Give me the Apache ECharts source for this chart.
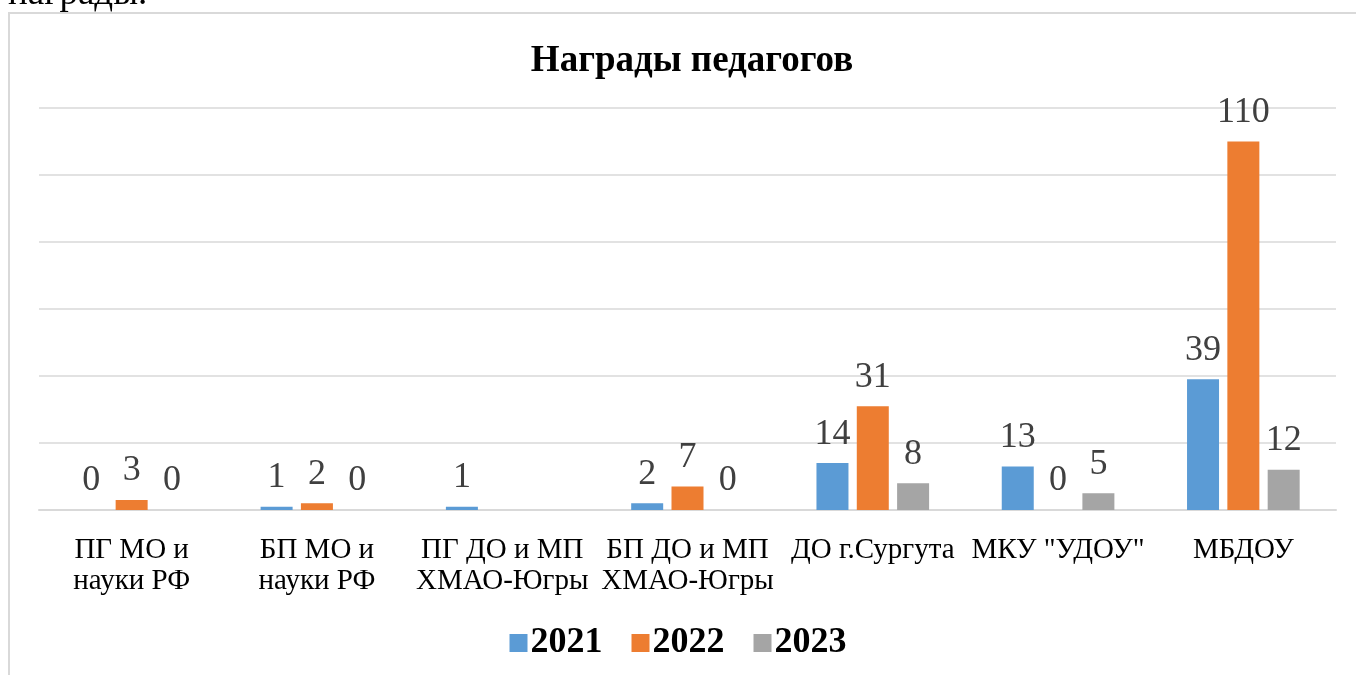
<!DOCTYPE html>
<html>
<head>
<meta charset="utf-8">
<script src="https://cdn.jsdelivr.net/npm/echarts@6/dist/echarts.min.js"></script>
<style>
  html, body { margin: 0; padding: 0; background: #fff; }
  #chart { width: 1356px; height: 675px; }
</style>
</head>
<body>
<div id="chart"></div>
<script>
  var categories = ['ПГ МО и\nнауки РФ', 'БП МО и\nнауки РФ', 'ПГ ДО и МП\nХМАО-Югры', 'БП ДО и МП\nХМАО-Югры', 'ДО г.Сургута', 'МКУ "УДОУ"', 'МБДОУ'];
  var years = ['2021', '2022', '2023'];
  var data2021 = [0, 1, 1, 2, 14, 13, 39];
  var data2022 = [3, 2, null, 7, 31, 0, 110];
  var data2023 = [0, 0, null, 0, 8, 5, 12];
  var colors = ['#5b9bd5', '#ed7d31', '#a5a5a5'];

  var serif = '"Liberation Serif", "Times New Roman", serif';
  var myChart = echarts.init(document.getElementById('chart'));

  function makeSeries(name, values, color) {
    return {
      name: name,
      type: 'bar',
      data: values,
      barWidth: 32,
      barGap: '26%',
      itemStyle: { color: color },
      label: {
        show: true,
        position: 'top',
        distance: 11,
        color: '#404040',
        fontFamily: serif,
        fontSize: 36
      }
    };
  }

  var option = {
    animation: false,
    color: colors,
    title: {
      text: 'Награды педагогов',
      left: 687,
      textAlign: 'center',
      top: 38,
      textStyle: { fontFamily: serif, fontWeight: 'bold', fontSize: 37, color: '#000' }
    },
    legend: {
      data: years,
      left: 'center',
      top: 620,
      itemWidth: 18,
      itemHeight: 18,
      itemGap: 29,
      icon: 'rect',
      textStyle: { fontFamily: serif, fontWeight: 'bold', fontSize: 36, color: '#000', padding: [0, 0, 0, -2] }
    },
    graphic: [
      {
        type: 'rect',
        shape: { x: 9, y: 13, width: 1400, height: 700 },
        style: { fill: 'none', stroke: '#d9d9d9', lineWidth: 2 },
        silent: true
      },
      {
        type: 'text',
        left: 8,
        top: -24,
        style: { text: 'награды.', font: '37px ' + serif, fill: '#000' },
        silent: true
      }
    ],
    grid: { left: 39, right: 20, top: 108, bottom: 165 },
    xAxis: {
      type: 'category',
      data: categories,
      axisTick: { show: false },
      axisLine: { lineStyle: { color: '#d9d9d9', width: 2 } },
      axisLabel: {
        interval: 0,
        margin: 25,
        color: '#000',
        fontFamily: serif,
        fontSize: 29,
        lineHeight: 31
      }
    },
    yAxis: {
      type: 'value',
      min: 0,
      max: 120,
      interval: 20,
      axisLabel: { show: false },
      axisLine: { show: false },
      axisTick: { show: false },
      splitLine: { lineStyle: { color: '#d9d9d9', width: 1.5 } }
    },
    series: [
      makeSeries(years[0], data2021, colors[0]),
      makeSeries(years[1], data2022, colors[1]),
      makeSeries(years[2], data2023, colors[2])
    ]
  };
  myChart.setOption(option);
</script>
</body>
</html>
